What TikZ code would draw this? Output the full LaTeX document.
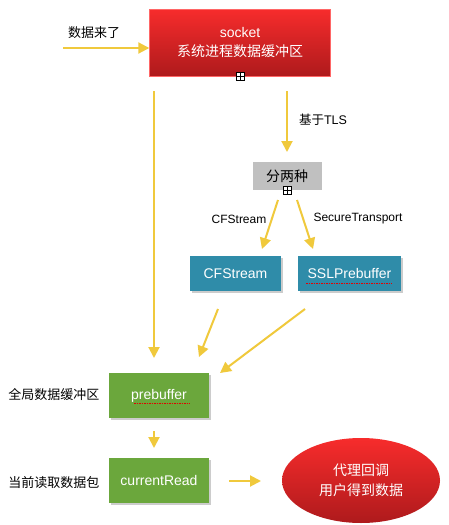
\documentclass[tikz,border=0pt]{standalone}
\usepackage{fontspec}
\setmainfont{Liberation Sans}
\newfontfamily\cjk{Noto Sans CJK SC}
\usetikzlibrary{arrows.meta,shapes.geometric,shadows}
\definecolor{arrowyellow}{HTML}{F0C93C}
\definecolor{redtop}{HTML}{F72C2C}
\definecolor{redbot}{HTML}{AE1A1C}
\definecolor{tealbox}{HTML}{2F8CA9}
\definecolor{greenbox}{HTML}{6BA73C}
\definecolor{graybox}{HTML}{C0C0C0}
\tikzset{
  flow/.style={draw=arrowyellow,line width=2pt,-{Triangle[length=11pt,width=11pt]}},
  lbl/.style={font=\fontsize{12}{14}\selectfont,text=black},
  bluebox/.style={fill=tealbox,text=white,minimum width=91pt,minimum height=35pt,inner sep=0pt,
     drop shadow={shadow xshift=1.5pt,shadow yshift=-1.5pt,opacity=0.4},font=\fontsize{14}{16}\selectfont},
  grnbox/.style={fill=greenbox,text=white,minimum width=100pt,minimum height=45pt,inner sep=0pt,
     drop shadow={shadow xshift=1.5pt,shadow yshift=-1.5pt,opacity=0.4},font=\fontsize{14}{16}\selectfont},
  expander/.style={draw=black,fill=white,minimum width=8pt,minimum height=8pt,inner sep=0pt,line width=0.6pt,
     path picture={\draw[line width=0.6pt] (path picture bounding box.north) -- (path picture bounding box.south)
        (path picture bounding box.west) -- (path picture bounding box.east);}},
  squig/.style={draw=red!90!black,dash pattern=on 1.5pt off 1pt,line width=1.3pt}
}
\begin{document}
\begin{tikzpicture}[x=1pt,y=-1pt]
\useasboundingbox[fill=white] (0,0) rectangle (449,525);
% socket box
\node[top color=redtop,bottom color=redbot,draw=red!60!white,line width=0.4pt,minimum width=181pt,minimum height=67pt,inner sep=0pt,
  text=white,align=center,font=\fontsize{14}{19}\selectfont] (sock) at (240,42.5) {socket\\{\cjk 系统进程数据缓冲区}};
\node[expander] (e1) at (240,76) {};
% incoming
\coordinate (inS) at (63,48);
\node[lbl,font=\cjk\fontsize{13}{15}\selectfont] (lin) at (94,33) {数据来了};
\draw[flow] (inS) -- (sock.west |- inS);
% TLS
\coordinate (tlsA) at (287,91);
\node[fill=graybox,minimum width=69pt,minimum height=28pt,inner sep=0pt,font=\cjk\fontsize{14}{16}\selectfont] (two) at (287,176) {分两种};
\node[expander] (e2) at (287,190) {};
\draw[flow] (tlsA) -- (287,152);
\node[lbl,font=\fontsize{12.5}{14}\selectfont] (ltls) at (323,120) {{\cjk 基于}TLS};
% left long
\coordinate (lA) at (154,91);
\coordinate (lB) at (154,358);
\draw[flow] (lA) -- (lB);
% branches
\node[bluebox] (cfs) at (235.5,273.5) {CFStream};
\node[bluebox,minimum width=103pt] (ssl) at (349.5,273.5) {SSLPrebuffer};
\draw[squig] (306,283.5) -- (392,283.5);
\coordinate (bA) at (278,200);
\coordinate (bB) at (297,200);
\draw[flow] (bA) -- (262,249);
\draw[flow] (bB) -- (313,249);
\node[lbl] (lcf) at (239,219) {CFStream};
\node[lbl] (lst) at (358,219) {SecureTransport};
% prebuffer
\node[grnbox] (pre) at (159,395.5) {prebuffer};
\draw[squig] (134,403.5) -- (190,403.5);
\node[lbl,font=\cjk\fontsize{13}{15}\selectfont] (lpre) at (54,395) {全局数据缓冲区};
\coordinate (cA) at (218,309);
\coordinate (sA) at (305,309);
\draw[flow] (cA) -- (199,357);
\draw[flow] (sA) -- (220,373);
% currentRead
\node[grnbox] (cur) at (159,480.5) {currentRead};
\node[lbl,font=\cjk\fontsize{13}{15}\selectfont] (lcur) at (54,483) {当前读取数据包};
\draw[flow] (154,431) -- (154,448);
% ellipse
\node[ellipse,top color=redtop,bottom color=redbot,minimum width=158pt,minimum height=85pt,inner sep=0pt,
  text=white,align=center,font=\cjk\fontsize{14}{20}\selectfont] (cb) at (361,480.5) {代理回调\\用户得到数据};
\coordinate (dA) at (229,481);
\draw[flow] (dA) -- (261,481);
\end{tikzpicture}
\end{document}
